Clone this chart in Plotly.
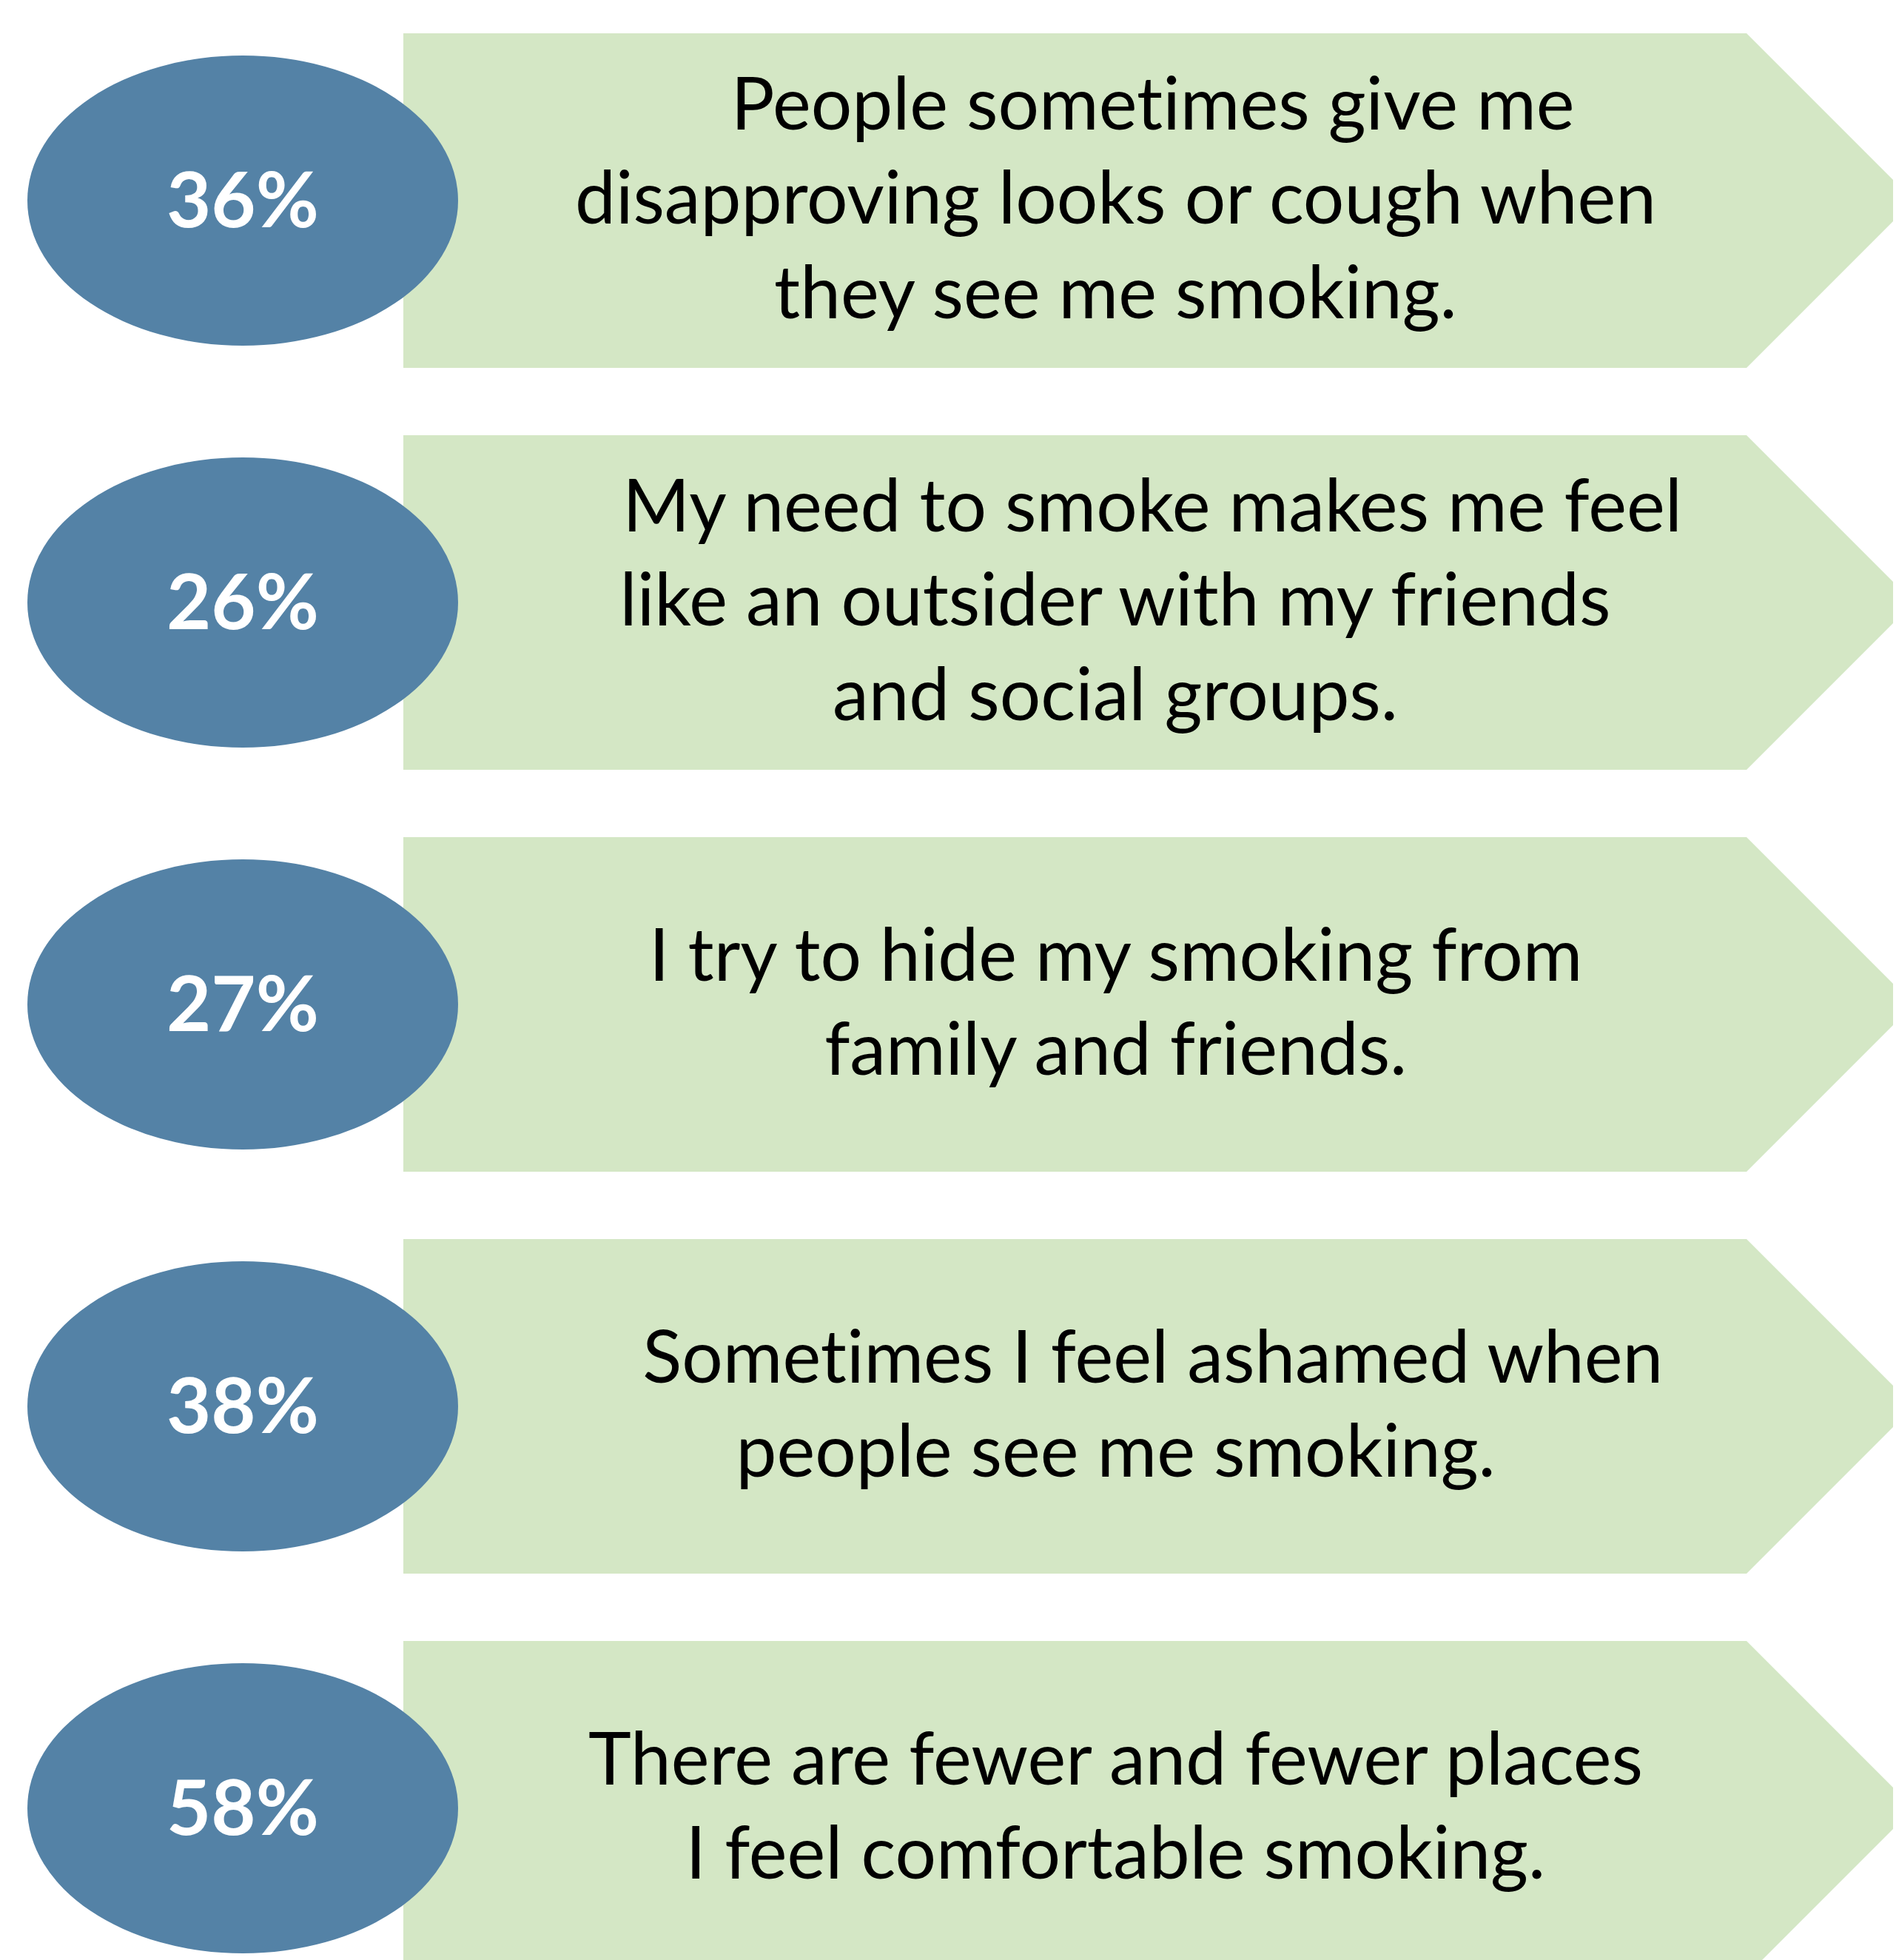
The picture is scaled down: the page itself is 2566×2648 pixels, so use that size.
import plotly.graph_objects as go

# ---- data ----
percentages = ["36%", "26%", "27%", "38%", "58%"]
statements = [
    ["People sometimes give me", "disapproving looks or cough when", "they see me smoking."],
    ["My need to smoke makes me feel", "like an outsider with my friends", "and social groups."],
    ["I try to hide my smoking from", "family and friends."],
    ["Sometimes I feel ashamed when", "people see me smoking."],
    ["There are fewer and fewer places", "I feel comfortable smoking."],
]
# lines that carry leading spaces in the original text boxes
indented = {(0, 0), (1, 0), (3, 0)}

# ---- style / layout ----
W, H = 2566, 2648
ELLIPSE_COLOR = "#5482A6"
ARROW_COLOR = "#D4E7C5"
ROW0 = 263
ROW_STEP = 543
HALF_H = 226
ELL_CX, ELL_RX, ELL_RY = 320, 291, 196
RECT_X0, RECT_X1 = 537, 2352
TEXT_X = 1499
TEXT_DY = -7


def no_lig(s):
    # keep "t" and "i" as separate glyphs (no ligature), like the original font
    return s.replace("ti", "t\u200ci")


fig = go.Figure()
shapes = []
annotations = []

for i, (pct, lines) in enumerate(zip(percentages, statements)):
    cy = ROW0 + i * ROW_STEP
    top, bot = cy - HALF_H, cy + HALF_H
    tip = RECT_X1 + HALF_H
    fig.add_trace(go.Scatter(
        x=[RECT_X0, RECT_X1, tip, RECT_X1, RECT_X0, RECT_X0],
        y=[top, top, cy, bot, bot, top],
        mode="lines", fill="toself", fillcolor=ARROW_COLOR,
        line=dict(width=0, color=ARROW_COLOR), hoverinfo="skip", showlegend=False,
    ))
    shapes.append(dict(
        type="circle", xref="x", yref="y",
        x0=ELL_CX - ELL_RX, x1=ELL_CX + ELL_RX, y0=cy - ELL_RY, y1=cy + ELL_RY,
        fillcolor=ELLIPSE_COLOR, line=dict(width=0), layer="above",
    ))
    annotations.append(dict(
        x=ELL_CX, y=cy + TEXT_DY + 2, xref="x", yref="y", text="<b>" + pct + "</b>",
        showarrow=False, font=dict(family="Lato", size=104, color="white"),
        xanchor="center", yanchor="middle",
    ))
    shown = []
    for j, ln in enumerate(lines):
        t = no_lig(ln)
        if (i, j) in indented:
            t = "&nbsp;&nbsp;&nbsp;&nbsp;" + t
        shown.append(t)
    annotations.append(dict(
        x=TEXT_X, y=cy + TEXT_DY, xref="x", yref="y", text="<br>".join(shown),
        showarrow=False, align="center",
        font=dict(family="Lato", size=98, color="black"),
        xanchor="center", yanchor="middle",
    ))

fig.update_layout(
    width=W, height=H, margin=dict(l=0, r=0, t=0, b=0),
    paper_bgcolor="white", plot_bgcolor="white",
    xaxis=dict(range=[0, W], visible=False, fixedrange=True),
    yaxis=dict(range=[H, 0], visible=False, fixedrange=True),
    shapes=shapes, annotations=annotations, showlegend=False,
)

fig.write_html("out.html")
